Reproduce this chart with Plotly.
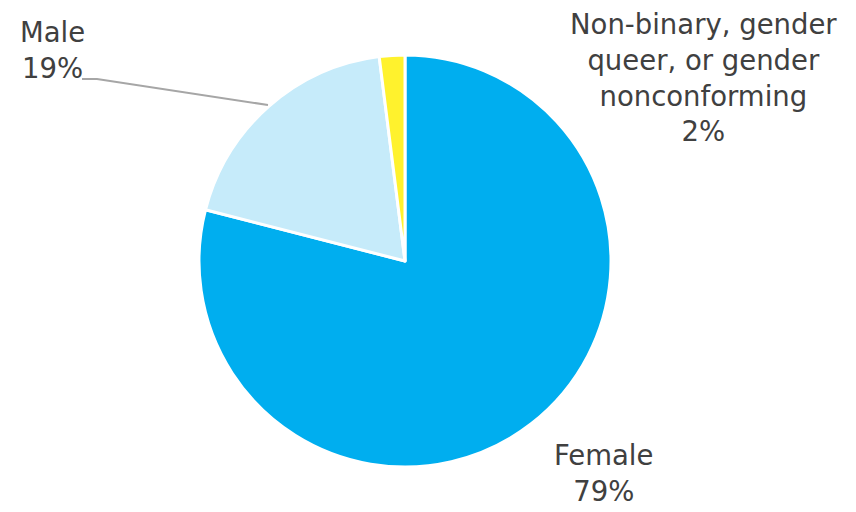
import plotly.graph_objects as go

labels = ["Female", "Male", "Non-binary, gender queer, or gender nonconforming"]
values = [79, 19, 2]
colors = ["#00AEEF", "#C6EBFA", "#FFF22D"]
label_texts = ["Female<br>79%", "Male<br>19%", "Non-binary, gender<br>queer, or gender<br>nonconforming<br>2%"]

W, H = 856, 512

fig = go.Figure(go.Pie(
    labels=labels, values=values, sort=False, direction="clockwise", rotation=0,
    marker=dict(colors=colors, line=dict(color="white", width=3)),
    textinfo="none", hoverinfo="label+percent",
    domain=dict(x=[199 / W, 611 / W], y=[(H - 467) / H, (H - 55) / H]),
    showlegend=False,
))

# label positions (pixel centres)
pos = [(603, 473), (52, 50), (703, 77)]
for t, (px, py) in zip(label_texts, pos):
    fig.add_annotation(text=t, x=px / W, y=1 - py / H, xref="paper", yref="paper",
                       showarrow=False, xanchor="center", yanchor="middle", align="center",
                       font=dict(family="DejaVu Sans", size=27.5, color="#404040"))

fig.add_shape(type="path", xref="paper", yref="paper",
              path=f"M {82/W} {1-79/H} L {97/W} {1-79/H} L {268/W} {1-105/H}",
              line=dict(color="#A6A6A6", width=2))

fig.update_layout(width=W, height=H, margin=dict(l=0, r=0, t=0, b=0),
                  paper_bgcolor="white", plot_bgcolor="white")
fig.write_html("out.html")
